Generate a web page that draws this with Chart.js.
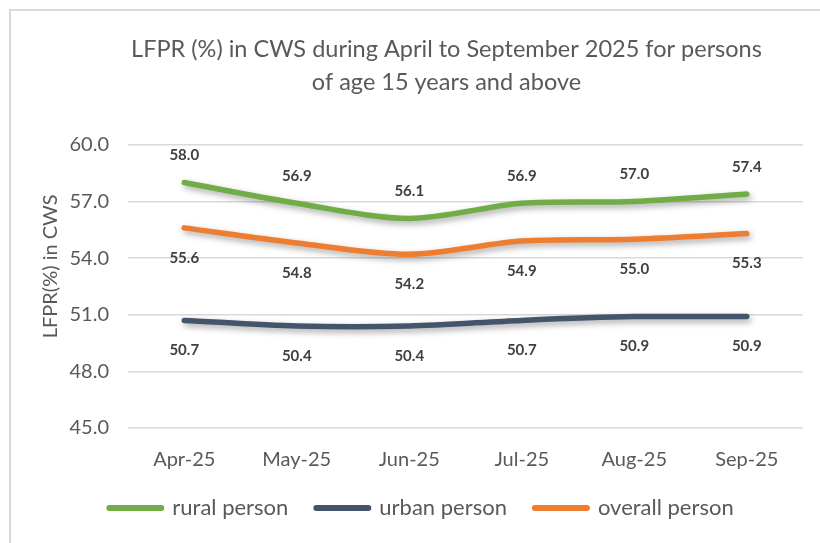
<!DOCTYPE html>
<html>
<head>
<meta charset="utf-8">
<script src="https://cdn.jsdelivr.net/npm/chart.js@4.4.1/dist/chart.umd.min.js"></script>
<style>
  html, body { margin: 0; padding: 0; background: #fff; overflow: hidden; }
  #wrap { position: absolute; left: 0; top: 0; width: 820px; height: 543px; }
  #frame { position: absolute; left: 9px; top: 9px; width: 900px; height: 600px;
           border-left: 2px solid #d9d9d9; border-top: 2px solid #d9d9d9; pointer-events: none; }
  canvas { position: absolute; left: 0; top: 0; }
</style>
</head>
<body>
<div id="wrap">
  <canvas id="c" width="820" height="543"></canvas>
  <div id="frame"></div>
</div>
<script>
const categories = ["Apr-25", "May-25", "Jun-25", "Jul-25", "Aug-25", "Sep-25"];
const ruralPerson = [58.0, 56.9, 56.1, 56.9, 57.0, 57.4];
const urbanPerson = [50.7, 50.4, 50.4, 50.7, 50.9, 50.9];
const overallPerson = [55.6, 54.8, 54.2, 54.9, 55.0, 55.3];
const seriesNames = ["rural person", "urban person", "overall person"];
const titleLines = ["LFPR (%) in CWS during April to September 2025 for persons", "of age 15 years and above"];
const yAxisTitle = "LFPR(%) in CWS";
const yMin = 45, yMax = 60, yStep = 3;

const FONT = "Lato, 'Open Sans', sans-serif";

const shadowPlugin = {
  id: 'lineShadow',
  beforeDatasetDraw(chart) {
    const ctx = chart.ctx;
    ctx.save();
    ctx.shadowColor = 'rgba(0,0,0,0.35)';
    ctx.shadowBlur = 6;
    ctx.shadowOffsetX = 2;
    ctx.shadowOffsetY = 3;
  },
  afterDatasetDraw(chart) {
    chart.ctx.restore();
  }
};

const labelPlugin = {
  id: 'valueLabels',
  afterDatasetsDraw(chart) {
    const ctx = chart.ctx;
    ctx.save();
    ctx.font = "bold 15px " + FONT;
    ctx.fillStyle = '#404040';
    ctx.textAlign = 'center';
    ctx.textBaseline = 'middle';
    chart.data.datasets.forEach((ds, di) => {
      const meta = chart.getDatasetMeta(di);
      meta.data.forEach((pt, i) => {
        const off = ds.labelAbove ? -27 : 30;
        ctx.fillText(ds.data[i].toFixed(1), pt.x, pt.y + off);
      });
    });
    ctx.restore();
  }
};

const shiftPlugin = {
  id: 'shiftBlocks',
  afterLayout(chart) {
    const t = chart.titleBlock;
    if (t) { t.left += 45; t.right += 45; }
    const l = chart.legend;
    if (l) { l.left += 20; l.right += 20; }
  },
  afterDraw(chart) {
    const ctx = chart.ctx;
    const a = chart.chartArea;
    ctx.save();
    ctx.font = "20px " + FONT;
    ctx.fillStyle = '#595959';
    ctx.textAlign = 'center';
    ctx.textBaseline = 'middle';
    ctx.translate(51, (a.top + a.bottom) / 2 - 20);
    ctx.rotate(-Math.PI / 2);
    ctx.fillText(yAxisTitle, 0, 0);
    ctx.restore();
  }
};

const mk = (label, data, color, above) => ({
  label, data, borderColor: color, backgroundColor: color,
  borderWidth: 5.5, borderCapStyle: 'round', borderJoinStyle: 'round',
  pointRadius: 0, pointHoverRadius: 0, tension: 0.3, fill: false, labelAbove: above
});

new Chart(document.getElementById('c'), {
  type: 'line',
  data: {
    labels: categories,
    datasets: [
      mk(seriesNames[0], ruralPerson, '#70AD47', true),
      mk(seriesNames[1], urbanPerson, '#44546A', false),
      mk(seriesNames[2], overallPerson, '#ED7D31', false)
    ]
  },
  options: {
    responsive: false,
    animation: false,
    layout: { padding: { left: 0, right: 17, top: 0, bottom: 14 } },
    plugins: {
      title: {
        display: true, text: titleLines, color: '#595959',
        font: { family: FONT, size: 23.5, weight: 'normal', lineHeight: 1.4 },
        padding: { top: 33, bottom: 46 }
      },
      legend: {
        display: true, position: 'bottom',
        labels: {
          color: '#595959', font: { family: FONT, size: 22 },
          usePointStyle: true, pointStyleWidth: 52, padding: 28,
          generateLabels(chart) {
            return chart.data.datasets.map((ds, i) => ({
              text: ds.label, fillStyle: ds.borderColor, strokeStyle: ds.borderColor,
              lineWidth: 6, lineCap: 'round', pointStyle: 'line', datasetIndex: i,
              fontColor: '#595959', hidden: false
            }));
          }
        }
      },
      tooltip: { enabled: false }
    },
    scales: {
      x: {
        offset: true,
        afterFit(scale) { scale.height -= 23; },
        grid: { display: false, drawTicks: false },
        border: { display: false },
        ticks: { color: '#595959', font: { family: FONT, size: 20 }, padding: 20 }
      },
      y: {
        min: yMin, max: yMax,
        afterFit(scale) { scale.width = 128; },
        grid: { color: '#d9d9d9', lineWidth: 1.5, drawTicks: false },
        border: { display: false },
        ticks: {
          stepSize: yStep, color: '#595959', font: { family: FONT, size: 20 }, padding: 19,
          callback: v => Number(v).toFixed(1)
        }
      }
    }
  },
  plugins: [shadowPlugin, labelPlugin, shiftPlugin]
});
</script>
</body>
</html>
